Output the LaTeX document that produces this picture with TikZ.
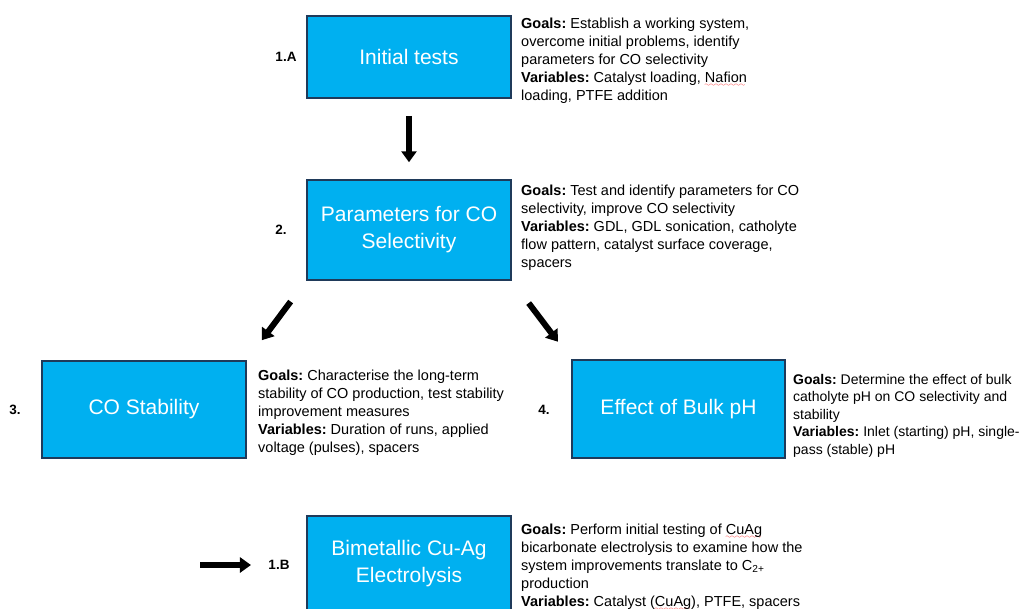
\documentclass[tikz,border=0pt]{standalone}
\usepackage{fontspec}
\setmainfont{Liberation Sans}
\usetikzlibrary{arrows.meta}

\definecolor{stageblue}{HTML}{00B0F0}
\definecolor{stageedge}{HTML}{1F3A5A}
\font\wavefont=lasy6
\frenchspacing
% red spell-check wave under a word
\newcommand{\spellmark}[1]{\setbox0\hbox{#1}\rlap{\raisebox{-3.5pt}{\color{red}\hbox to \wd0{\leaders\hbox{\wavefont\char58}\hfil}}}#1}

\begin{document}
\begin{tikzpicture}[x=1pt, y=-1pt,
    stage/.style={rectangle,draw=stageedge,line width=1.5pt,fill=stageblue,minimum width=204pt,minimum height=98pt,align=center,text=white,font=\fontsize{21}{27}\selectfont},
    tag/.style={font=\fontsize{13.5}{16}\selectfont\bfseries},
    note/.style={anchor=north west,inner sep=0pt,align=left,font=\fontsize{14.5}{18}\selectfont},
    bigarr/.style={line width=6pt,-{Triangle[width=15pt,length=11pt]}}
  ]
  \useasboundingbox (0,0) rectangle (1022,608);
  \clip (0,0) rectangle (1022,608);

  % stages
  \node[stage,minimum height=82pt] (init) at (409,57) {Initial tests};
  \node[stage,minimum height=100pt] (param) at (409,230) {Parameters for CO\\Selectivity};
  \node[stage,minimum height=97pt] (stab) at (144,409.5) {CO Stability};
  \node[stage,minimum width=213pt] (bulkph) at (678.5,409) {Effect of Bulk pH};
  \node[stage,minimum height=96pt] (cuag) at (409,564) {Bimetallic Cu-Ag\\Electrolysis};

  % numbers
  \node[tag] (t1a) at (286,57) {1.A};
  \node[tag] (t2) at (281,230) {2.};
  \node[tag] (t3) at (15,410) {3.};
  \node[tag] (t4) at (544,410) {4.};
  \node[tag] (t1b) at (279,565) {1.B};

  % goals and variables
  \node[note] (g1) at (521,18) {\textbf{Goals:} Establish a working system,\\overcome initial problems, identify\\parameters for CO selectivity\\\textbf{Variables:} Catalyst loading, \spellmark{Nafion}\\loading, PTFE addition};
  \node[note] (g2) at (521,185) {\textbf{Goals:} Test and identify parameters for CO\\selectivity, improve CO selectivity\\\textbf{Variables:} GDL, GDL sonication, catholyte\\flow pattern, catalyst surface coverage,\\spacers};
  \node[note] (g3) at (258,370) {\textbf{Goals:} Characterise the long-term\\stability of CO production, test stability\\improvement measures\\\textbf{Variables:} Duration of runs, applied\\voltage (pulses), spacers};
  \node[note,font=\fontsize{14}{17.5}\selectfont] (g4) at (793,374) {\textbf{Goals:} Determine the effect of bulk\\catholyte pH on CO selectivity and\\stability\\\textbf{Variables:} Inlet (starting) pH, single-\\pass (stable) pH};
  \node[note] (g5) at (521,524) {\textbf{Goals:} Perform initial testing of \spellmark{CuAg}\\bicarbonate electrolysis to examine how the\\system improvements translate to C\textsubscript{2+}\\production\\\textbf{Variables:} Catalyst (\spellmark{CuAg}), PTFE, spacers};

  % arrows
  \draw[bigarr,shorten <=17pt,shorten >=17pt] (init) -- (param);
  \draw[bigarr,shorten <=26pt,shorten >=25pt] (param.south west) -- (stab.north east);
  \draw[bigarr,shorten <=28pt,shorten >=22pt] (param.south east) -- (bulkph.north west);
  \coordinate (feed) at (200,565);
  \draw[bigarr,shorten >=14pt] (feed) -- (t1b);
\end{tikzpicture}
\end{document}
